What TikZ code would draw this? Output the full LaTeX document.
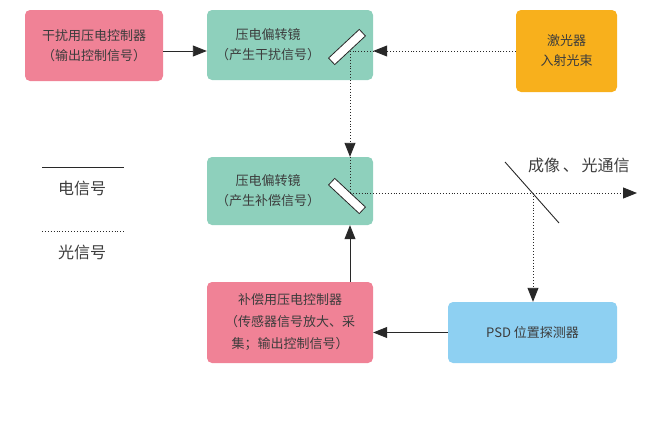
\documentclass[tikz,border=0pt]{standalone}
\usepackage{fontspec}
\newfontfamily\cjk{Noto Sans CJK SC}
\usetikzlibrary{arrows.meta}
\definecolor{pinkbox}{RGB}{240,130,150}
\definecolor{greenbox}{RGB}{142,208,188}
\definecolor{orangebox}{RGB}{248,176,28}
\definecolor{bluebox}{RGB}{142,208,242}
\definecolor{txt}{RGB}{60,60,60}
\definecolor{ln}{RGB}{40,40,40}
\tikzset{
  box/.style={rounded corners=5pt, inner sep=0pt, draw=none, text=txt, font=\cjk\fontsize{13}{20}\selectfont, align=center},
  boxtext/.style={text=txt, font=\cjk\fontsize{13}{20}\selectfont, align=center, inner sep=0pt},
  mirror/.style={draw=ln, fill=white, line width=0.8pt, minimum width=42pt, minimum height=9pt, inner sep=0pt},
  elec/.style={draw=ln, line width=0.9pt},
  optic/.style={draw=ln, line width=0.9pt, dotted},
  tip/.style={-{Triangle[length=14pt,width=11pt]}},
  legtext/.style={text=txt, font=\cjk\fontsize{16}{18}\selectfont, inner sep=0pt},
}
\begin{document}
\begin{tikzpicture}[x=1pt,y=-1pt]
\useasboundingbox (0,0) rectangle (666,423);
% boxes
\node[box, fill=pinkbox, minimum width=138pt, minimum height=71pt] (ctrl1) at (94,45.5) {干扰用压电控制器\\（输出控制信号）};
\node[box, fill=greenbox, minimum width=166pt, minimum height=70pt] (pz1) at (290,45) {};
\node[boxtext] (pz1t) at (268,45) {压电偏转镜\\（产生干扰信号）};
\node[box, fill=orangebox, minimum width=101pt, minimum height=82pt] (laser) at (566.5,51) {激光器\\入射光束};
\node[box, fill=greenbox, minimum width=166pt, minimum height=68pt] (pz2) at (290,191) {};
\node[boxtext] (pz2t) at (268,191) {压电偏转镜\\（产生补偿信号）};
\node[box, fill=pinkbox, minimum width=166pt, minimum height=81pt, font=\cjk\fontsize{13}{22}\selectfont] (ctrl2) at (290,322.5) {补偿用压电控制器\\（传感器信号放大、采\\集；输出控制信号）};
\node[box, fill=bluebox, minimum width=169pt, minimum height=61pt] (psd) at (532.5,332.5) {PSD 位置探测器};
% mirrors
\node[mirror, rotate=43] (m1) at (347,47) {};
\node[mirror, rotate=-43] (m2) at (347,196) {};
% beam points
\coordinate (p1) at (350,51);
\coordinate (p2) at (350,193);
\coordinate (p3) at (533,193);
\coordinate (out) at (637,193);
\coordinate (sA) at (505,162);
\coordinate (sB) at (559,223);
% splitter
\draw[elec] (sA) -- (sB);
% electrical connectors
\draw[elec, tip] (ctrl1.east |- p1) -- (pz1.west |- p1);
\draw[elec, tip] (ctrl2.north -| p1) -- (pz2.south -| p1);
\draw[elec, tip] (psd.west) -- (psd.west -| ctrl2.east);
% optical connectors
\draw[optic] (laser.west |- p1) -- (p1);
\draw[optic, tip] (laser.west |- p1) -- (pz1.east |- p1);
\draw[optic, tip] (p1) -- (pz2.north -| p1);
\draw[optic] (pz2.north -| p1) -- (p2);
\draw[optic, tip] (p2) -- (out);
\draw[optic, tip] (p3) -- (psd.north -| p3);
\node[legtext, anchor=west] (img) at (528,165) {成像\,、\,光通信};
% legend
\coordinate (la) at (42,167);
\coordinate (lb) at (124,167);
\coordinate (lc) at (42,231);
\coordinate (ld) at (124,231);
\draw[elec, line width=0.7pt] (la) -- (lb);
\node[legtext] (le) at (82,188) {电信号};
\draw[optic, line width=0.7pt] (lc) -- (ld);
\node[legtext] (lo) at (82,252) {光信号};
\end{tikzpicture}
\end{document}
